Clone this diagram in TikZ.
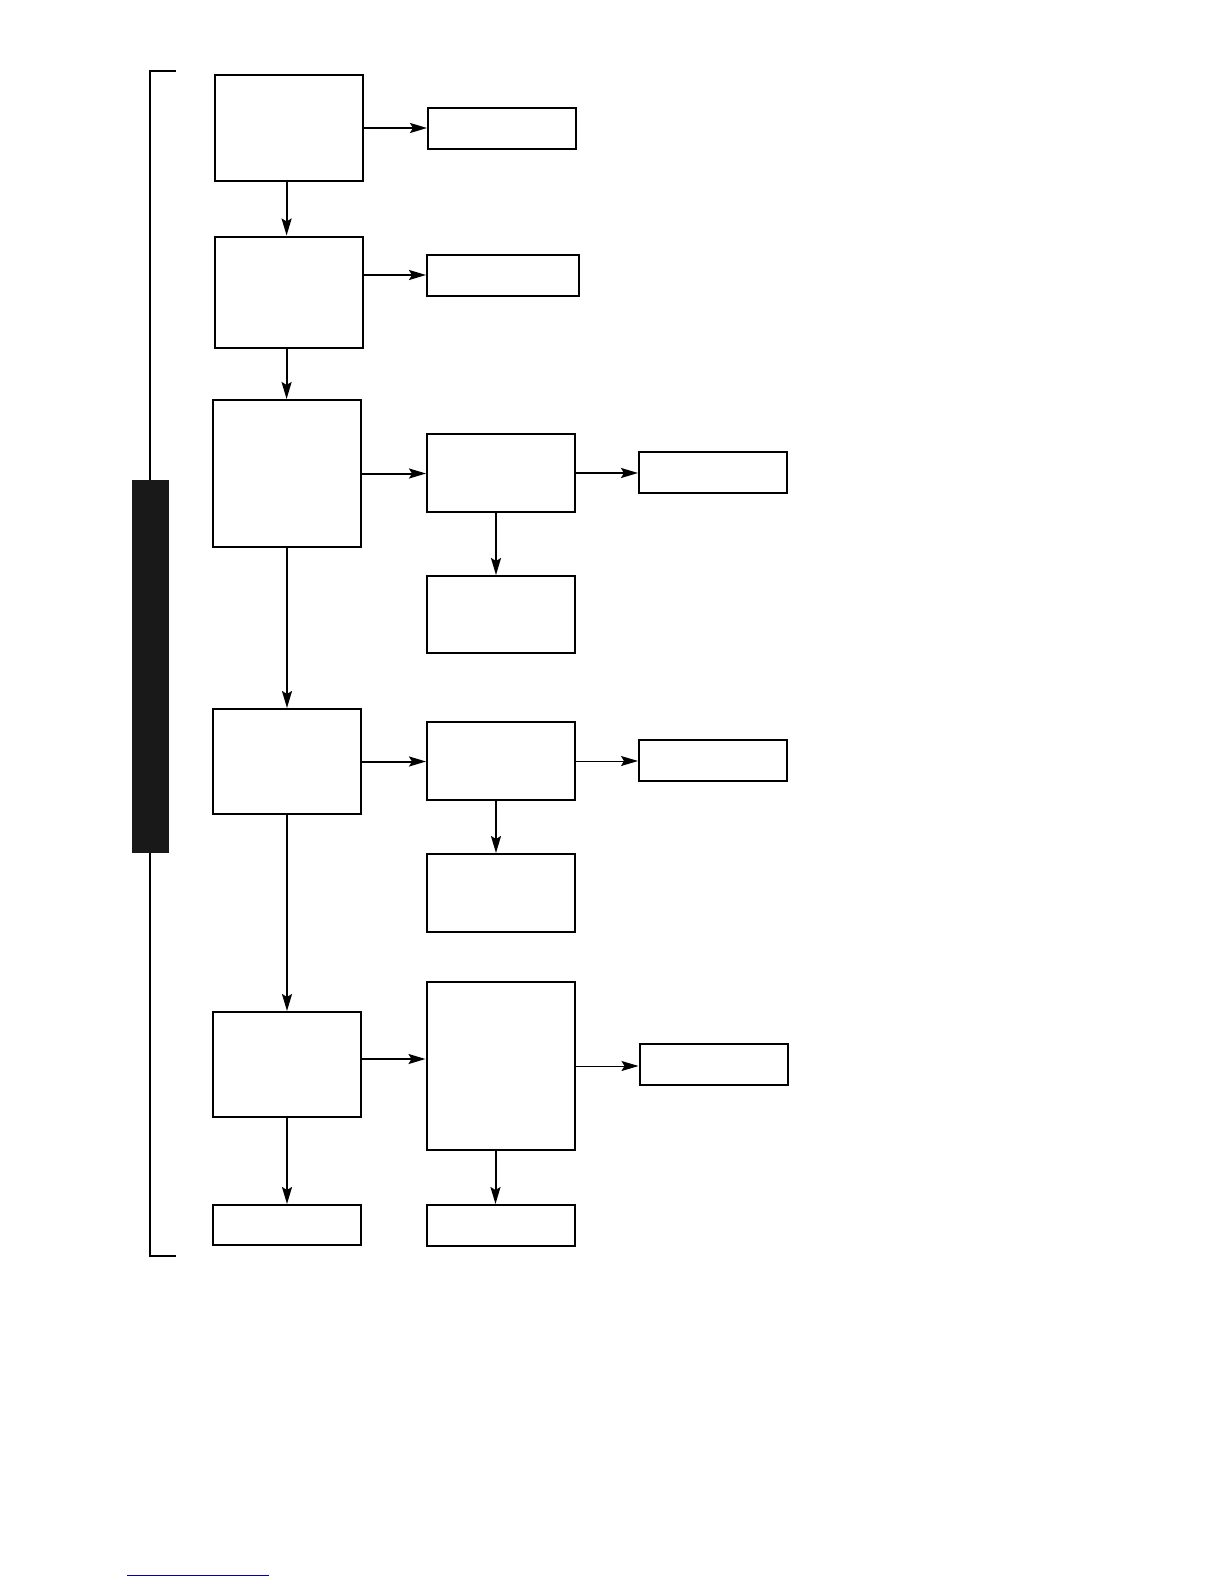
\documentclass[tikz,border=0pt]{standalone}
\usetikzlibrary{arrows.meta}

\begin{document}
\begin{tikzpicture}[x=0.5pt, y=-0.5pt, >={Stealth[length=8.5pt, width=5pt, inset=1.5pt]}, line width=1pt,
  caja/.style={draw, inner sep=0pt, minimum width=74pt, minimum height=#1},
  caja/.default=20.5pt,
  leve/.style={line width=0.5pt}]
  \useasboundingbox (0,0) rectangle (1224,1584);
  % llave lateral con barra negra
  \coordinate (L1) at (176,71);
  \coordinate (L2) at (176,1256);
  \draw[line width=0.85pt] (L1) -- (150,71) -- (150,1256) -- (L2);
  \fill[black!90] (132,480) rectangle (169,853);
  % columna principal
  \node[caja=52.5pt] (a1) at (289,128) {};
  \node[caja=55.5pt] (a2) at (289,292) {};
  \node[caja=73.5pt] (a3) at (287,473.5) {};
  \node[caja=52.5pt] (a4) at (287,761.5) {};
  \node[caja=52.5pt] (a5) at (287,1064.5) {};
  \node[caja=20pt] (a6) at (287,1225) {};
  % segunda columna
  \node[caja] (b1) at (502,128.3) {};
  \node[caja, minimum width=76pt] (b2) at (503,275) {};
  \node[caja=39pt] (c3) at (501,473) {};
  \node[caja=38.5pt] (c3d) at (501,614.5) {};
  \node[caja=39pt] (c4) at (501,761) {};
  \node[caja=39pt] (c4d) at (501,893) {};
  \node[caja=84pt] (c5) at (500.5,1066) {};
  \node[caja] (c6) at (500.5,1225.5) {};
  % tercera columna
  \node[caja] (d3) at (713,472.5) {};
  \node[caja] (d4) at (713,760.5) {};
  \node[caja] (d5) at (713.5,1064.5) {};
  % flechas
  \draw[->] (a1) -- (a1 -| b1.west);
  \draw[->] ([xshift=-1.2pt]a1.south) -- ([xshift=-1.2pt]a1.south |- a2.north);
  \draw[->] (a2.east |- b2) -- (b2);
  \draw[->] ([xshift=-1.2pt]a2.south) -- ([xshift=-1.2pt]a2.south |- a3.north);
  \draw[->] (a3) -- (a3 -| c3.west);
  \draw[->] (c3) -- (c3 -| d3.west);
  \draw[->] ([xshift=-2.5pt]c3.south) -- ([xshift=-2.5pt]c3d.north);
  \draw[->] (a3) -- (a4);
  \draw[->] (a4) -- (a4 -| c4.west);
  \draw[->, leve] (c4) -- (c4 -| d4.west);
  \draw[->] ([xshift=-2.5pt]c4.south) -- ([xshift=-2.5pt]c4d.north);
  \draw[->] (a4) -- (a5);
  \draw[->] ([yshift=2.75pt]a5.east) -- ([yshift=2.75pt]a5.east -| c5.west);
  \draw[->, leve] (c5) -- (c5 -| d5.west);
  \draw[->] ([xshift=-2.5pt]c5.south) -- ([xshift=-2.5pt]c6.north);
  \draw[->] (a5) -- (a6);
  % raya azul al pie
  \draw[leve, blue!70!black] (127,1575) -- (269,1575);
\end{tikzpicture}
\end{document}
